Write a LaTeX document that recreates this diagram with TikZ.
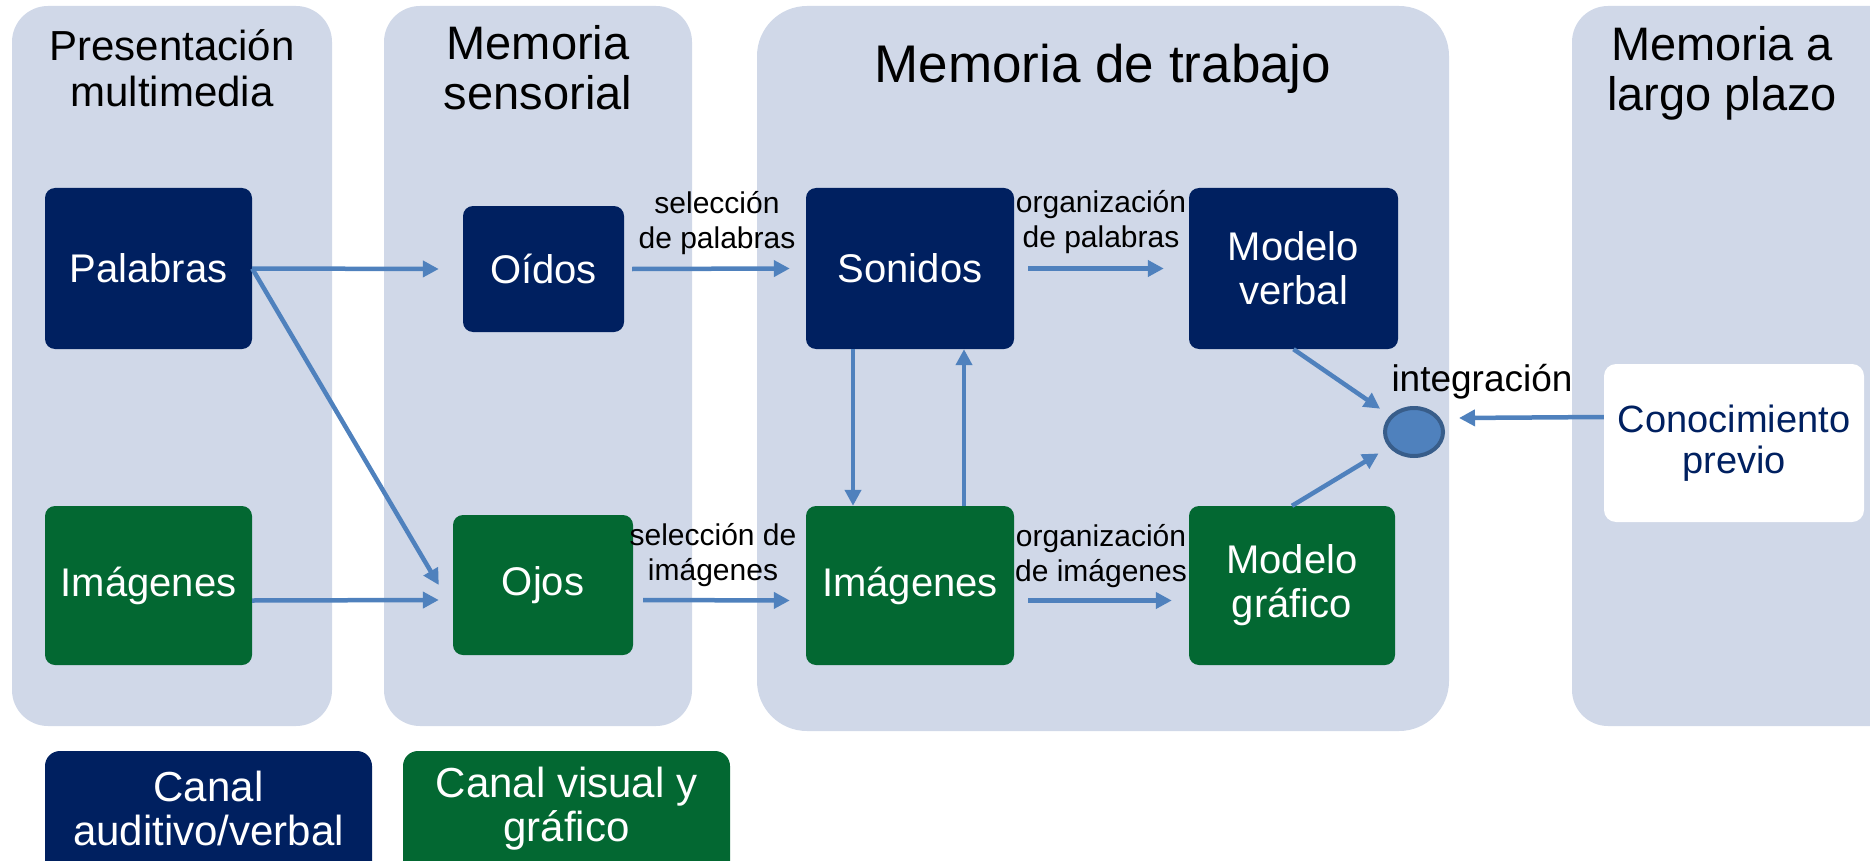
\documentclass[tikz,border=0pt]{standalone}
\usepackage{fontspec}
\setmainfont{Liberation Sans}
\usetikzlibrary{arrows.meta,shapes.geometric}
\definecolor{panelc}{RGB}{208,216,232}
\definecolor{navy}{RGB}{0,32,96}
\definecolor{dgreen}{RGB}{3,104,50}
\definecolor{arrowc}{RGB}{79,129,189}
\definecolor{circb}{RGB}{56,93,138}
\begin{document}
\begin{tikzpicture}[x=1pt,y=-1pt,
  panel/.style={fill=panelc, draw=none, rounded corners=36pt, inner sep=0pt},
  bluebox/.style={fill=navy, text=white, rounded corners=10pt, inner sep=0pt, align=center,
    font={\fontsize{40}{44}\selectfont}},
  greenbox/.style={bluebox, fill=dgreen},
  titletxt/.style={align=center, text=black, inner sep=0pt},
  lab/.style={align=center, text=black, inner sep=0pt, font={\fontsize{30}{35}\selectfont}},
  arr/.style={draw=arrowc, line width=4.5pt, -{Triangle[length=16pt,width=16pt]}},
  canal/.style={rounded corners=15pt, inner sep=0pt}
]
\useasboundingbox (0,0) rectangle (1870,861);
\clip (0,0) rectangle (1870,861);

% panels
\node[panel, minimum width=320pt, minimum height=720pt] (p1) at (172,366) {};
\node[panel, minimum width=308pt, minimum height=720pt] (p2) at (538,366) {};
\node[panel, rounded corners=50pt, minimum width=692pt, minimum height=725pt] (p3) at (1103,368.5) {};
\node[panel, minimum width=348pt, minimum height=720pt] (p4) at (1746,366) {};

% titles
\node[titletxt, font={\fontsize{42}{46}\selectfont}] (t1) at (172,68) {Presentación\\multimedia};
\node[titletxt, font={\fontsize{47}{50}\selectfont}] (t2) at (538,68) {Memoria\\sensorial};
\node[titletxt, font={\fontsize{53}{58}\selectfont}] (t3) at (1103,69) {Memoria de trabajo};
\node[titletxt, font={\fontsize{47}{50}\selectfont}] (t4) at (1722,73) {Memoria a\\largo plazo};

% boxes
\node[bluebox, minimum width=207pt, minimum height=161pt] (pal) at (148.5,268.5) {Palabras};
\node[greenbox, minimum width=207pt, minimum height=159pt] (img1) at (148.5,585.5) {Imágenes};
\node[bluebox, minimum width=161pt, minimum height=126pt] (oid) at (543.5,269) {Oídos};
\node[greenbox, minimum width=180pt, minimum height=140pt] (ojos) at (543,585) {Ojos};
\node[bluebox, minimum width=208pt, minimum height=161pt] (son) at (910,268.5) {Sonidos};
\node[greenbox, minimum width=208pt, minimum height=159pt] (img2) at (910,585.5) {Imágenes};
\node[bluebox, minimum width=209pt, minimum height=161pt] (mv) at (1293.5,268.5) {Modelo\\verbal};
\node[greenbox, minimum width=206pt, minimum height=159pt] (mg) at (1292,585.5) {Modelo\\gráfico};
\node[fill=white, text=navy, rounded corners=12pt, inner sep=0pt, align=center,
  font={\fontsize{38}{41}\selectfont}, minimum width=260pt, minimum height=158pt] (con) at (1734,443) {Conocimiento\\previo};

% integration circle
\node[ellipse, fill=arrowc, draw=circb, line width=4pt, minimum width=58pt, minimum height=48pt, inner sep=0pt] (circ) at (1414,432) {};
\node[titletxt, font={\fontsize{37}{40}\selectfont}] (integ) at (1482,382) {integración};
\coordinate (cin) at (1459,418);

% labels
\node[lab] (l1) at (717,223) {selección\\de palabras};
\node[lab] (l2) at (713,555) {selección de\\imágenes};
\node[lab] (l3) at (1101,222) {organización\\de palabras};
\node[lab] (l4) at (1101,556) {organización\\de imágenes};

% channel legend boxes
\node[canal, fill=navy, minimum width=327pt, minimum height=129pt] (can1) at (208.5,815.5) {};
\node[canal, fill=dgreen, minimum width=327pt, minimum height=129pt] (can2) at (566.5,815.5) {};
\node[titletxt, text=white, font={\fontsize{42}{44}\selectfont}] (can1t) at ([yshift=7pt]can1.center) {Canal\\auditivo/verbal};
\node[titletxt, text=white, font={\fontsize{42}{44}\selectfont}] (can2t) at ([yshift=7pt]can2.center) {Canal visual y\\gráfico};

% arrows
\draw[arr] (pal.east) -- ([xshift=-24pt]oid.west);
\draw[arr] (pal.east) -- ([xshift=-14pt]ojos.west);
\draw[arr] ([yshift=-15pt]img1.east) -- ([xshift=-14pt,yshift=-15pt]ojos.west);
\draw[arr] ([xshift=8pt]oid.east) -- ([xshift=-16pt]son.west);
\draw[arr] ([xshift=10pt,yshift=-15pt]ojos.east) -- ([xshift=-16pt,yshift=-15pt]img2.west);
\draw[arr] ([xshift=14pt]son.east) -- ([xshift=-25pt]mv.west);
\draw[arr] ([xshift=14pt,yshift=-15pt]img2.east) -- ([xshift=-17pt,yshift=-15pt]mg.west);
\draw[arr] ([xshift=-57pt]son.south) -- ([xshift=-57pt]img2.north);
\draw[arr] ([xshift=54pt]img2.north) -- ([xshift=54pt]son.south);
\draw[arr, shorten >=12pt] (mv.south) -- (circ);
\draw[arr, shorten >=12pt] (mg.north) -- (circ);
\draw[arr] ([yshift=26pt]con.west) -- (cin);
\end{tikzpicture}
\end{document}
